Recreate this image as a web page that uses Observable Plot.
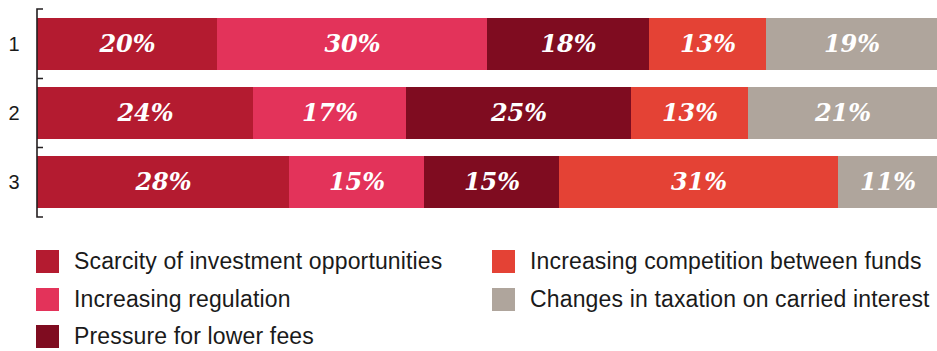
<!DOCTYPE html>
<html><head><meta charset="utf-8">
<script src="https://cdn.jsdelivr.net/npm/d3@7"></script>
<script src="https://cdn.jsdelivr.net/npm/@observablehq/plot@0.6"></script>
<style>
body{margin:0;background:#fff;font-family:"Liberation Sans",Arial,sans-serif;}
#wrap{position:relative;width:937px;height:351px;overflow:hidden;}
#chart svg{display:block;}
.item{position:absolute;display:flex;align-items:center;font-size:23px;letter-spacing:0.15px;color:#1a1a1a;white-space:nowrap;line-height:23px;}
.sw{width:23px;height:23px;margin-right:15px;flex:none;}
</style></head><body><div id="wrap"><div id="chart"></div><div id="legend"></div></div>
<script>
const rows = ["1", "2", "3"];
const categories = [
  "Scarcity of investment opportunities",
  "Increasing regulation",
  "Pressure for lower fees",
  "Increasing competition between funds",
  "Changes in taxation on carried interest"
];
const colors = ["#b41b30", "#e3335a", "#7f0c20", "#e44235", "#afa59c"];
const values1 = [20, 30, 18, 13, 19];
const values2 = [24, 17, 25, 13, 21];
const values3 = [28, 15, 15, 31, 11];
const seriesByRow = [values1, values2, values3];

const data = [];
rows.forEach((r, i) => categories.forEach((c, j) => data.push({row: r, cat: c, value: seriesByRow[i][j]})));

function bracketAxis(index, scales, values, dimensions) {
  const y = scales.y;
  const bw = typeof y.bandwidth === "function" ? y.bandwidth() : scales.scales.y.bandwidth;
  const x0 = scales.x(0);
  const top = dimensions.marginTop;
  const bottom = dimensions.height - dimensions.marginBottom;
  const starts = rows.map(r => y(r));
  const bounds = [];
  for (let i = 1; i < rows.length; i++) bounds.push((starts[i - 1] + bw + starts[i]) / 2);
  let d = `M${x0 + 6},${top}H${x0}V${bottom}H${x0 + 6}`;
  for (const b of bounds) d += `M${x0},${b}H${x0 + 6}`;
  const path = document.createElementNS("http://www.w3.org/2000/svg", "path");
  path.setAttribute("d", d);
  path.setAttribute("fill", "none");
  path.setAttribute("stroke", "#231f20");
  path.setAttribute("stroke-width", "1.6");
  return path;
}

const chart = Plot.plot({
  width: 937,
  height: 224,
  marginLeft: 37,
  marginRight: 0,
  marginTop: 9,
  marginBottom: 7,
  style: {fontFamily: "'Liberation Sans', Arial, sans-serif", fontSize: "20px", color: "#1a1a1a", background: "#fff"},
  x: {domain: [0, 100], axis: null},
  y: {domain: rows, paddingInner: 0.243, paddingOuter: 0.12, label: null},
  color: {domain: categories, range: colors},
  marks: [
    Plot.barX(data, Plot.stackX({x: "value", y: "row", z: "cat", fill: "cat"})),
    Plot.text(data, Plot.stackX({
      x: "value", y: "row", z: "cat",
      text: d => d.value + "%",
      fill: "white",
      fontFamily: "'DejaVu Serif', serif",
      fontWeight: "bold",
      fontStyle: "italic",
      fontSize: 24
    })),
    Plot.axisY({tickSize: 0, tickPadding: 18, label: null, fontSize: 20}),
    bracketAxis
  ]
});
document.getElementById("chart").appendChild(chart);

const legend = document.getElementById("legend");
const legendPos = [
  {left: 36, top: 250}, {left: 36, top: 288}, {left: 36, top: 325},
  {left: 492, top: 250}, {left: 492, top: 288}
];
categories.forEach((c, i) => {
  const el = document.createElement("div");
  el.className = "item";
  el.style.left = legendPos[i].left + "px";
  el.style.top = legendPos[i].top + "px";
  const sw = document.createElement("span");
  sw.className = "sw";
  sw.style.background = colors[i];
  const t = document.createElement("span");
  t.textContent = c;
  el.appendChild(sw); el.appendChild(t);
  legend.appendChild(el);
});
</script></body></html>
